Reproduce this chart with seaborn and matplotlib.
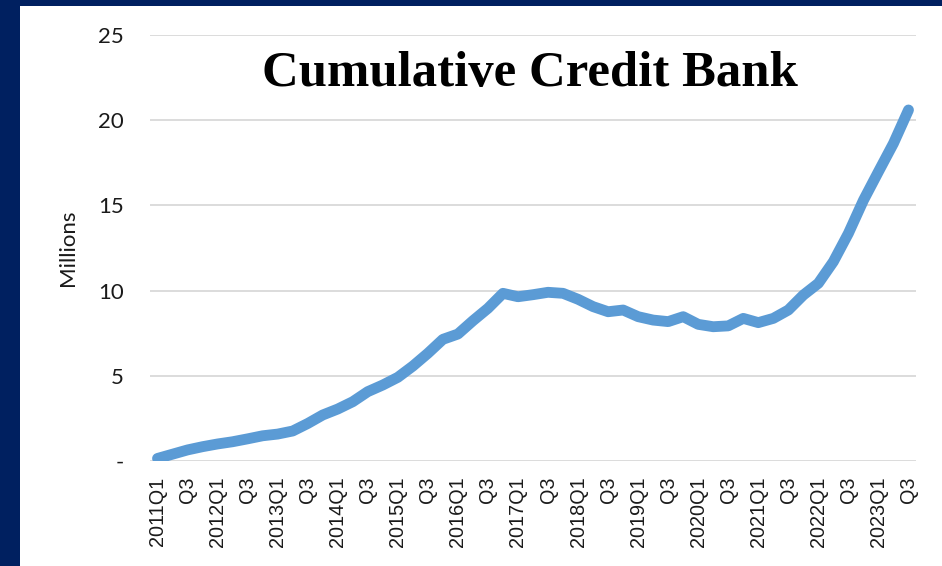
import numpy as np
import pandas as pd
import seaborn as sns
from matplotlib import pyplot as plt
from matplotlib.patches import Rectangle

# quarterly cumulative credit bank, millions
quarters = [f'{y}Q{q}' for y in range(2011, 2024) for q in range(1, 5)][:51]
values = [0.15, 0.4, 0.65, 0.84, 1.0, 1.13, 1.3, 1.48, 1.58, 1.76,
          2.2, 2.7, 3.05, 3.48, 4.07, 4.46, 4.91, 5.57, 6.32, 7.14,
          7.45, 8.23, 8.96, 9.84, 9.64, 9.76, 9.9, 9.84, 9.49, 9.06,
          8.76, 8.86, 8.47, 8.27, 8.18, 8.47, 8.02, 7.88, 7.93, 8.37,
          8.12, 8.37, 8.86, 9.74, 10.43, 11.7, 13.36, 15.3, 16.98, 18.64,
          20.6]
tick_labels = ['2011Q1', 'Q3', '2012Q1', 'Q3', '2013Q1', 'Q3', '2014Q1', 'Q3',
               '2015Q1', 'Q3', '2016Q1', 'Q3', '2017Q1', 'Q3', '2018Q1', 'Q3',
               '2019Q1', 'Q3', '2020Q1', 'Q3', '2021Q1', 'Q3', '2022Q1', 'Q3',
               '2023Q1', 'Q3']
y_ticks = [0, 5, 10, 15, 20, 25]
y_labels = ['-', '5', '10', '15', '20', '25']

df = pd.DataFrame({'quarter': quarters, 'value': values})
df['pos'] = np.arange(len(df))

sns.set_style('white')

W, H = 942, 566
fig = plt.figure(figsize=(W / 100, H / 100), dpi=100, facecolor='#002060')
fig.add_artist(Rectangle((20 / W, 0), 1, 1 - 6 / H, transform=fig.transFigure,
                         facecolor='white', edgecolor='none', zorder=0))

ax = fig.add_axes([150 / W, 1 - 461 / H, 766 / W, 426 / H])
ax.set_facecolor('white')

for t in y_ticks:
    ax.axhline(t, color='#d9d9d9', lw=1.3, zorder=1)

sns.lineplot(data=df, x='pos', y='value', ax=ax, color='#5b9bd5', lw=7.8,
             solid_capstyle='round', zorder=3)

ax.set_xlim(-0.5, len(df) - 0.5)
ax.set_ylim(0, 25)
ax.set_yticks(y_ticks)
ax.set_yticklabels(y_labels, family='Lato', fontsize=16, color='#1a1a1a')
ax.set_xticks(df['pos'][::2])
ax.set_xticklabels(tick_labels, rotation=90, va='top', ha='center',
                   family='Liberation Sans', fontsize=14.3, color='#1a1a1a')
ax.tick_params(axis='y', length=0, pad=19)
ax.tick_params(axis='x', length=0, pad=11)
for s in ax.spines.values():
    s.set_visible(False)
ax.set_xlabel('')
ax.set_ylabel('Millions', family='Lato', fontsize=16, color='#1a1a1a', labelpad=14)

fig.text(530 / W, 1 - 74 / H, 'Cumulative Credit Bank', ha='center', va='center',
         family='Liberation Serif', fontweight='bold', fontsize=36.5, color='black')

plt.savefig('out.png', dpi=100, facecolor=fig.get_facecolor())
